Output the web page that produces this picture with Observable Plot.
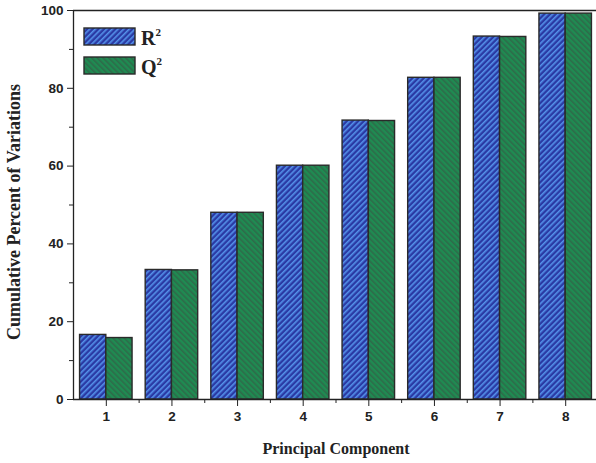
<!DOCTYPE html>
<html>
<head>
<meta charset="utf-8">
<script src="https://cdn.jsdelivr.net/npm/d3@7"></script>
<script src="https://cdn.jsdelivr.net/npm/@observablehq/plot@0.6"></script>
<style>
  html, body { margin: 0; padding: 0; background: #fff; overflow: hidden; }
  #chart { width: 596px; height: 463px; }
</style>
</head>
<body>
<div id="chart"></div>
<script>
// ---- data ----
const components = [1, 2, 3, 4, 5, 6, 7, 8];
const r2 = [16.6, 33.3, 48.0, 60.1, 71.7, 82.7, 93.3, 99.2];
const q2 = [15.8, 33.2, 48.0, 60.1, 71.6, 82.7, 93.2, 99.2];
const majorY = [0, 20, 40, 60, 80, 100];
const minorY = [10, 30, 50, 70, 90];
const minorX = [1.5, 2.5, 3.5, 4.5, 5.5, 6.5, 7.5];
const seriesNames = ["R", "Q"];

const rowsR = components.map((c, i) => ({pc: c, value: r2[i]}));
const rowsQ = components.map((c, i) => ({pc: c, value: q2[i]}));
const half = 0.4;

const tickFont = {fontFamily: "'Liberation Sans', Arial, sans-serif", fontSize: 13.5, fontWeight: "bold"};
const serif = "'Liberation Serif', 'Times New Roman', serif";

const svg = Plot.plot({
  width: 596,
  height: 463,
  marginLeft: 73,
  marginRight: -2,
  marginTop: 10,
  marginBottom: 64,
  x: {domain: [0.5, 8.5], label: null},
  y: {domain: [0, 100], label: null},
  style: {background: "#fff", color: "#222"},
  marks: [
    Plot.rectY(rowsR, {x1: d => d.pc - half, x2: "pc", y: "value",
      fill: "url(#hatchR)", stroke: "#2a2a2a", strokeWidth: 1.4}),
    Plot.rectY(rowsQ, {x1: "pc", x2: d => d.pc + half, y: "value",
      fill: "url(#hatchQ)", stroke: "#2a2a2a", strokeWidth: 1.4}),
    Plot.ruleY([0], {stroke: "#222", strokeWidth: 1.3}),
    Plot.ruleY([100], {stroke: "#222", strokeWidth: 1.3}),
    Plot.ruleX([0.5], {stroke: "#222", strokeWidth: 1.3}),
    Plot.axisY({ticks: majorY, tickSize: 6, tickPadding: 4, tickFormat: d => d,
      stroke: "#222", fill: "#222", ...tickFont}),
    Plot.axisY({ticks: minorY, tickSize: 4, text: null, stroke: "#222"}),
    Plot.axisX({ticks: components, tickSize: 7, tickPadding: 5, tickFormat: d => d,
      stroke: "#222", fill: "#222", ...tickFont}),
    Plot.axisX({ticks: minorX, tickSize: 4, text: null, stroke: "#222"}),
    Plot.text(["Principal Component"], {frameAnchor: "bottom", dy: 54, fill: "#222",
      lineAnchor: "bottom", textAnchor: "middle",
      fontFamily: serif, fontSize: 16, fontWeight: "bold"}),
    Plot.text(["Cumulative Percent of Variations"], {frameAnchor: "left", dx: -59, dy: 7, rotate: -90,
      textAnchor: "middle", fill: "#222",
      fontFamily: serif, fontSize: 18, fontWeight: "bold"})
  ]
});

// hatch patterns
const s = d3.select(svg);
const defs = s.insert("defs", ":first-child");
const pR = defs.append("pattern").attr("id", "hatchR").attr("patternUnits", "userSpaceOnUse")
  .attr("width", 4).attr("height", 4).attr("patternTransform", "rotate(45)");
pR.append("rect").attr("width", 4).attr("height", 4).attr("fill", "#2a3aa4");
pR.append("rect").attr("width", 1.6).attr("height", 4).attr("fill", "#5592ea");
const pQ = defs.append("pattern").attr("id", "hatchQ").attr("patternUnits", "userSpaceOnUse")
  .attr("width", 4).attr("height", 4).attr("patternTransform", "rotate(-45)");
pQ.append("rect").attr("width", 4).attr("height", 4).attr("fill", "#1f8b52");
pQ.append("rect").attr("width", 1.6).attr("height", 4).attr("fill", "#2e6b4a");

// legend inside the plot area
const legend = s.append("g").attr("transform", "translate(84,28)");
seriesNames.forEach((name, i) => {
  const g = legend.append("g").attr("transform", `translate(0,${i * 29})`);
  g.append("rect").attr("width", 51).attr("height", 17)
    .attr("fill", i === 0 ? "url(#hatchR)" : "url(#hatchQ)")
    .attr("stroke", "#2a2a2a").attr("stroke-width", 1.4);
  const t = g.append("text").attr("x", 57).attr("y", 17)
    .attr("text-anchor", "start")
    .attr("font-family", serif)
    .attr("font-weight", "bold").attr("font-size", 20).attr("fill", "#222");
  t.append("tspan").text(name);
  t.append("tspan").attr("dy", -9).attr("font-size", 11).text("2");
});

document.getElementById("chart").appendChild(svg);
</script>
</body>
</html>
